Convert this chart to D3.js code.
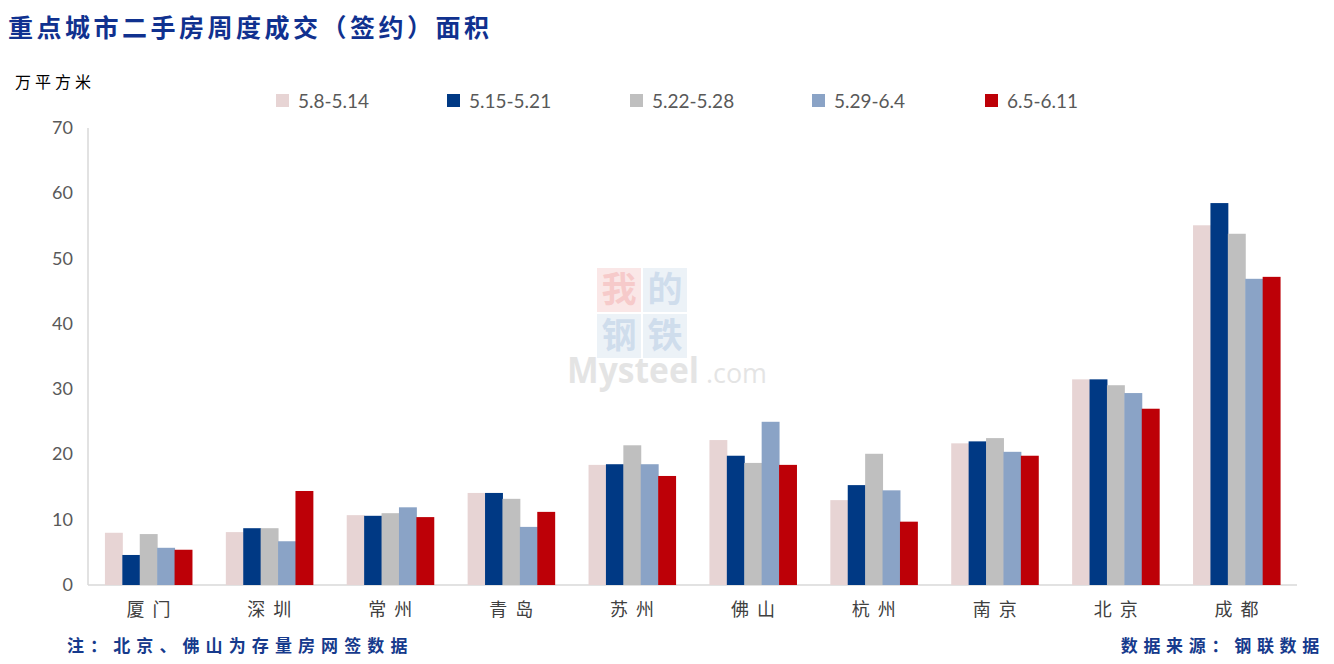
<!DOCTYPE html>
<html><head><meta charset="utf-8">
<script src="https://cdn.jsdelivr.net/npm/d3@7"></script>
<style>body{margin:0;background:#fff;} svg{display:block;}</style>
</head><body>
<svg id="c" width="1334" height="664"></svg>
<script>
const categories = ["厦门","深圳","常州","青岛","苏州","佛山","杭州","南京","北京","成都"];
const seriesNames = ["5.8-5.14","5.15-5.21","5.22-5.28","5.29-6.4","6.5-6.11"];
const s1 = [8.0, 8.1, 10.7, 14.1, 18.4, 22.2, 13.0, 21.7, 31.5, 55.1];
const s2 = [4.6, 8.7, 10.6, 14.1, 18.5, 19.8, 15.3, 22.0, 31.5, 58.5];
const s3 = [7.8, 8.7, 11.0, 13.2, 21.4, 18.7, 20.1, 22.5, 30.6, 53.8];
const s4 = [5.7, 6.7, 11.9, 8.9, 18.5, 25.0, 14.5, 20.4, 29.4, 46.9];
const s5 = [5.4, 14.4, 10.4, 11.2, 16.7, 18.4, 9.7, 19.8, 27.0, 47.2];
const yTicks = [0,10,20,30,40,50,60,70];
const colors = ["#E7D4D4","#003984","#BFBFBF","#8AA3C6","#BD0007"];
const seriesValues = [s1,s2,s3,s4,s5];

(function(){
const svg = d3.select("#c");
const pL = 88, pR = 1297, pT = 128, pB = 585;

const x0 = d3.scaleBand().domain(categories).range([pL, pR]).paddingInner(0.28).paddingOuter(0.14);
const x1 = d3.scaleBand().domain(seriesNames).range([0, x0.bandwidth()]);
const y = d3.scaleLinear().domain([0,70]).range([pB, pT]);

// watermark
const wm = svg.append("g").attr("opacity", 0.55);
const bx = 597, by = 268, bs = 44, gap = 2;
const wmChars = [["我","#f2b8b8"],["的","#c8d8ea"],["钢","#c8d8ea"],["铁","#c8d8ea"]];
wmChars.forEach((d,i)=>{
  const cx = bx + (i%2)*(bs+gap), cy = by + Math.floor(i/2)*(bs+gap);
  wm.append("rect").attr("x",cx).attr("y",cy).attr("width",bs).attr("height",bs).attr("fill",d[1]).attr("opacity",0.6);
  wm.append("text").attr("x",cx+bs/2).attr("y",cy+bs/2+12).attr("text-anchor","middle")
    .attr("font-family","Noto Sans CJK SC").attr("font-weight","bold").attr("font-size",35)
    .attr("fill", i===0 ? "#f0a0a0" : "#a9c2de").text(d[0]);
});
wm.append("text").attr("x",567).attr("y",383).attr("font-family","Open Sans, sans-serif").attr("font-weight","bold")
  .attr("font-size",36).attr("fill","#cfcfcf").attr("textLength",132).attr("lengthAdjust","spacingAndGlyphs").text("Mysteel");
wm.append("text").attr("x",706).attr("y",383).attr("font-family","Open Sans, sans-serif")
  .attr("font-size",28).attr("fill","#cfcfcf").attr("textLength",61).attr("lengthAdjust","spacingAndGlyphs").text(".com");

// axes lines
svg.append("line").attr("x1",pL).attr("x2",pL).attr("y1",pT).attr("y2",pB).attr("stroke","#d9d9d9").attr("stroke-width",1.5);
svg.append("line").attr("x1",pL).attr("x2",pR).attr("y1",pB).attr("y2",pB).attr("stroke","#d9d9d9").attr("stroke-width",1.5);

// y tick labels
svg.append("g").selectAll("text").data(yTicks).join("text")
  .attr("x",73).attr("y",d=>y(d)+6).attr("text-anchor","end")
  .attr("font-family","Lato, sans-serif").attr("font-size",18).attr("fill","#595959").text(d=>d);

// bars
const g = svg.append("g");
categories.forEach((c,ci)=>{
  seriesNames.forEach((s,si)=>{
    const v = seriesValues[si][ci];
    g.append("rect").attr("x", x0(c)+x1(s)).attr("width", x1.bandwidth()+0.5)
      .attr("y", y(v)).attr("height", y(0)-y(v)).attr("fill", colors[si]);
  });
});

// category labels
svg.append("g").selectAll("text").data(categories).join("text")
  .attr("x",d=>x0(d)+x0.bandwidth()/2+4).attr("y",616).attr("text-anchor","middle")
  .attr("font-family","Noto Sans CJK SC").attr("font-size",18).attr("letter-spacing",8)
  .attr("fill","#404040").text(d=>d);

// legend
const legX = [276, 447, 630, 812, 985];
seriesNames.forEach((s,i)=>{
  svg.append("rect").attr("x",legX[i]).attr("y",94).attr("width",13).attr("height",13).attr("fill",colors[i]);
  svg.append("text").attr("x",legX[i]+22).attr("y",108).attr("font-family","Lato, sans-serif")
    .attr("font-size",19).attr("fill","#595959").text(s);
});

// unit
svg.append("text").attr("x",15).attr("y",88).attr("font-family","Noto Sans CJK SC").attr("font-size",16)
  .attr("letter-spacing",4).attr("fill","#000").text("万平方米");

// title
svg.append("text").attr("x",8).attr("y",37).attr("font-family","Noto Sans CJK SC").attr("font-weight","bold")
  .attr("font-size",25).attr("letter-spacing",3.5).attr("fill","#10318f").text("重点城市二手房周度成交（签约）面积");

// footer
svg.append("text").attr("x",67).attr("y",652).attr("font-family","Noto Sans CJK SC").attr("font-weight","bold")
  .attr("font-size",17).attr("letter-spacing",6.1).attr("fill","#163a8c").text("注：北京、佛山为存量房网签数据");
svg.append("text").attr("x",1325).attr("y",652).attr("text-anchor","end").attr("font-family","Noto Sans CJK SC").attr("font-weight","bold")
  .attr("font-size",17).attr("letter-spacing",5.7).attr("fill","#163a8c").text("数据来源：钢联数据");
})();
</script>
</body></html>
